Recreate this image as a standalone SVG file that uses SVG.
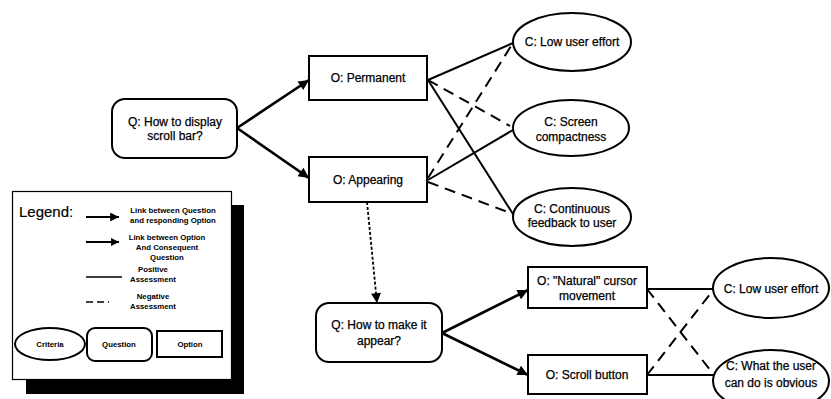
<svg xmlns="http://www.w3.org/2000/svg" width="831" height="399" viewBox="0 0 831 399">
  <defs>
    <marker id="arrow" viewBox="0 0 10 10" refX="10" refY="5" markerWidth="5" markerHeight="4" markerUnits="strokeWidth" orient="auto">
      <path d="M0,0 L10,5 L0,10 z" fill="#000"/>
    </marker>
    <marker id="arrowSmall" viewBox="0 0 10 10" refX="10" refY="5" markerWidth="7" markerHeight="5.5" markerUnits="strokeWidth" orient="auto">
      <path d="M0,0 L10,5 L0,10 z" fill="#000"/>
    </marker>
  </defs>
  <style>
    text { font-family: "Liberation Sans", Arial, sans-serif; font-size: 12px; fill: #000; text-anchor: middle; stroke: #000; stroke-width: 0.25; }
    .node { fill: #fff; stroke: #000; stroke-width: 2; }
    .link { fill: none; stroke: #000; stroke-width: 2.6; marker-end: url(#arrow); }
    .pos { fill: none; stroke: #000; stroke-width: 2; }
    .neg { fill: none; stroke: #000; stroke-width: 2; stroke-dasharray: 11 7; }
    .dep { fill: none; stroke: #000; stroke-width: 1.8; stroke-dasharray: 3 2; marker-end: url(#arrowSmall); }
    .leg { font-size: 7.8px; font-weight: bold; stroke-width: 0; }
  </style>
  <rect width="831" height="399" fill="#fff"/>

  <!-- connectors -->
  <g id="connectors">
    <line class="link" x1="237" y1="128" x2="309" y2="80"/>
    <line class="link" x1="237" y1="128" x2="309" y2="178"/>
    <line class="pos" x1="428" y1="80" x2="513" y2="43"/>
    <line class="pos" x1="428" y1="80" x2="513" y2="214"/>
    <line class="neg" x1="428" y1="80" x2="510" y2="126"/>
    <line class="pos" x1="428" y1="180" x2="513" y2="130"/>
    <line class="neg" x1="428" y1="178" x2="513" y2="43"/>
    <line class="neg" x1="428" y1="182" x2="513" y2="214"/>
    <line class="dep" x1="367" y1="202" x2="377" y2="303"/>
    <line class="link" x1="442" y1="333" x2="528" y2="290"/>
    <line class="link" x1="442" y1="333" x2="528" y2="375"/>
    <line class="pos" x1="647" y1="289" x2="714" y2="289"/>
    <line class="neg" x1="647" y1="289" x2="714" y2="375"/>
    <line class="pos" x1="647" y1="375" x2="714" y2="375"/>
    <line class="neg" x1="647" y1="375" x2="714" y2="289"/>
  </g>

  <!-- questions -->
  <g id="q-display">
    <rect class="node" x="112" y="99" width="125" height="59" rx="13"/>
    <text x="175" y="126">Q: How to display</text>
    <text x="175" y="140">scroll bar?</text>
  </g>
  <g id="q-appear">
    <rect class="node" x="316" y="303" width="126" height="59" rx="13"/>
    <text x="379" y="329">Q: How to make it</text>
    <text x="379" y="345">appear?</text>
  </g>

  <!-- options -->
  <g id="o-permanent">
    <rect class="node" x="309" y="56" width="118" height="44"/>
    <text x="368" y="82">O: Permanent</text>
  </g>
  <g id="o-appearing">
    <rect class="node" x="309" y="157" width="118" height="45"/>
    <text x="368" y="184">O: Appearing</text>
  </g>
  <g id="o-natural">
    <rect class="node" x="528" y="267" width="119" height="41"/>
    <text x="587" y="285">O: "Natural" cursor</text>
    <text x="587" y="300">movement</text>
  </g>
  <g id="o-scroll-button">
    <rect class="node" x="528" y="355" width="119" height="39"/>
    <text x="587" y="379">O: Scroll button</text>
  </g>

  <!-- criteria -->
  <g id="c-effort-1">
    <ellipse class="node" cx="572" cy="42" rx="59" ry="29"/>
    <text x="572" y="46">C: Low user effort</text>
  </g>
  <g id="c-compactness">
    <ellipse class="node" cx="571" cy="128" rx="58" ry="28"/>
    <text x="571" y="126">C: Screen</text>
    <text x="571" y="141">compactness</text>
  </g>
  <g id="c-feedback">
    <ellipse class="node" cx="572" cy="217" rx="59" ry="29"/>
    <text x="572" y="213">C: Continuous</text>
    <text x="572" y="227">feedback to user</text>
  </g>
  <g id="c-effort-2">
    <ellipse class="node" cx="771" cy="288" rx="58" ry="30"/>
    <text x="771" y="293">C: Low user effort</text>
  </g>
  <g id="c-obvious">
    <ellipse class="node" cx="771" cy="381" rx="58" ry="31"/>
    <text x="771" y="370">C: What the user</text>
    <text x="771" y="387">can do is obvious</text>
  </g>

  <!-- legend -->
  <g id="legend">
    <rect x="26" y="205" width="218" height="189" fill="#000"/>
    <rect x="12.5" y="191.5" width="219" height="188" fill="#fff" stroke="#000" stroke-width="1.2"/>
    <text x="19" y="217" style="font-size:15px;text-anchor:start;stroke-width:0.2">Legend:</text>
    <line x1="86" y1="217" x2="119" y2="217" stroke="#000" stroke-width="2.2" marker-end="url(#arrow)"/>
    <text class="leg" x="173" y="213">Link between Question</text>
    <text class="leg" x="173" y="223">and responding Option</text>
    <line x1="86" y1="242" x2="119" y2="242" stroke="#000" stroke-width="2" marker-end="url(#arrow)"/>
    <text class="leg" x="167" y="240">Link between Option</text>
    <text class="leg" x="167" y="250">And Consequent</text>
    <text class="leg" x="167" y="260">Question</text>
    <line x1="86" y1="277" x2="122" y2="277" stroke="#000" stroke-width="1.6"/>
    <text class="leg" x="153" y="272">Positive</text>
    <text class="leg" x="153" y="282">Assessment</text>
    <line x1="86" y1="302" x2="123" y2="302" stroke="#000" stroke-width="1.6" stroke-dasharray="7 4 7 4 1 20"/>
    <text class="leg" x="153" y="299">Negative</text>
    <text class="leg" x="153" y="309">Assessment</text>
    <ellipse class="node" cx="50" cy="344" rx="35" ry="16" stroke-width="1.6"/>
    <text class="leg" x="50" y="347">Criteria</text>
    <rect class="node" x="87" y="328" width="65" height="33" rx="8" stroke-width="1.6"/>
    <text class="leg" x="119" y="347">Question</text>
    <rect class="node" x="157" y="331" width="65" height="26" stroke-width="1.6"/>
    <text class="leg" x="190" y="347">Option</text>
  </g>
</svg>
